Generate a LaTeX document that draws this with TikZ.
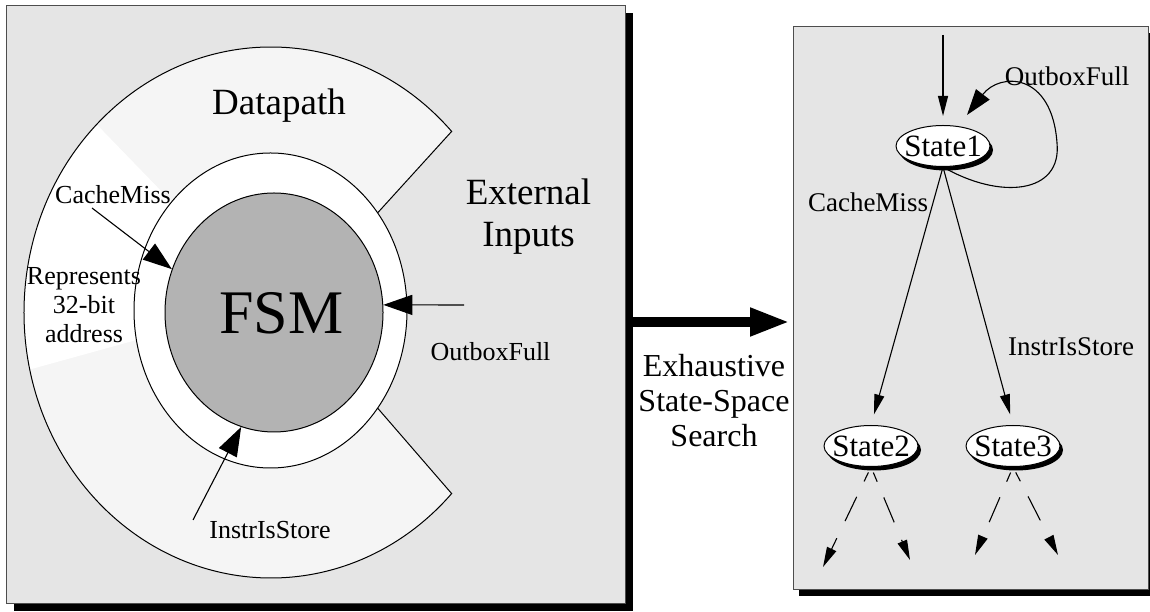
\documentclass[tikz,border=0pt]{standalone}
\usepackage{fontspec}
\setmainfont{Liberation Serif}
\usetikzlibrary{arrows.meta,shapes.geometric,shadows,calc}
\definecolor{panelgray}{HTML}{E5E5E5}
\definecolor{ringgray}{HTML}{F5F5F5}
\definecolor{fsmgray}{HTML}{B3B3B3}
\definecolor{framegray}{HTML}{4D4D4D}
\begin{document}
\begin{tikzpicture}[x=1pt,y=1pt,
  panel/.style={rectangle, draw=framegray, line width=1pt, fill=panelgray,
    anchor=south west, inner sep=0pt},
  txt/.style={inner sep=0pt, align=center},
  lbl/.style={inner sep=0pt, font=\fontsize{26pt}{29pt}\selectfont},
  rlbl/.style={inner sep=0pt, font=\fontsize{27pt}{30pt}\selectfont},
  state/.style={ellipse, draw, line width=1pt, fill=white,
    minimum width=94pt, minimum height=41pt, inner sep=0pt,
    drop shadow={shadow xshift=3pt, shadow yshift=-4pt, fill=black, opacity=1},
    font=\fontsize{31pt}{31pt}\selectfont},
  inarrow/.style={line width=1.1pt, -{Triangle[length=29pt,width=20pt]}},
  edge/.style={line width=1.1pt, -{Triangle[length=20pt,width=10pt]}},
  branch/.style={edge, dash pattern=on 10pt off 17pt on 27pt off 19pt on 60pt},
]
\useasboundingbox (0,0) rectangle (1150,612);

% the two panels with their solid drop shadows
\node[panel, minimum width=619pt, minimum height=598pt,
  drop shadow={shadow xshift=7pt, shadow yshift=-8pt, fill=black, opacity=1}] (dp) at (6,8) {};
\node[panel, minimum width=355pt, minimum height=563pt,
  drop shadow={shadow xshift=5pt, shadow yshift=-7pt, fill=black, opacity=1}] (ss) at (793,22) {};

% datapath: an open ring around the controller
\coordinate (oc) at (271,299.5);
\coordinate (mc) at (270.5,301.5);
\fill[ringgray] ($(oc)+(43:247pt and 265.5pt)$)
  arc[start angle=43, end angle=317, x radius=247pt, y radius=265.5pt]
  -- ($(mc)+(-38.3:136.5pt and 157.5pt)$)
  arc[start angle=-38.3, end angle=-321.7, x radius=136.5pt, y radius=157.5pt] -- cycle;
% the address part of the datapath
\fill[white] ($(oc)+(134.9:247pt and 265.5pt)$)
  arc[start angle=134.9, end angle=192.4, x radius=247pt, y radius=265.5pt]
  -- ($(mc)+(190.8:136.5pt and 157.5pt)$)
  arc[start angle=190.8, end angle=136.4, x radius=136.5pt, y radius=157.5pt] -- cycle;
\draw[line width=1pt] ($(mc)+(38.3:136.5pt and 157.5pt)$)
  -- ($(oc)+(43:247pt and 265.5pt)$)
  arc[start angle=43, end angle=317, x radius=247pt, y radius=265.5pt]
  -- ($(mc)+(-38.3:136.5pt and 157.5pt)$);

\node[ellipse, draw, line width=1pt, fill=white, minimum width=273pt,
  minimum height=315pt] (ring) at (mc) {};
\node[ellipse, draw, line width=1pt, fill=fsmgray, minimum width=218pt,
  minimum height=239pt] (fsm) at (274,299.5) {};

% labels of the left panel
\node[txt, font=\fontsize{37pt}{43pt}\selectfont] (dpl) at (279,506.5) {Datapath};
\node[txt, font=\fontsize{37pt}{42pt}\selectfont] (ext) at (528.5,395.5) {External\\Inputs};
\node[txt, font=\fontsize{62pt}{62pt}\selectfont] (fsml) at (281.5,298.5) {FSM};
\node[txt, font=\fontsize{26pt}{29pt}\selectfont] (rep) at (84,307) {Represents\\32-bit\\address};
\node[lbl] (cm) at (113,417.5) {CacheMiss};
\node[lbl] (ob) at (490.5,260) {OutboxFull};
\node[lbl] (st) at (270,82) {InstrIsStore};

% inputs into the FSM
\coordinate (cm0) at (92,404);
\coordinate (ob0) at (464,307);
\coordinate (st0) at (193,92);
\draw[inarrow] (cm0) -- (fsm.157);
\draw[inarrow] (ob0) -- (fsm.4);
\draw[inarrow] (st0) -- (fsm.254);

% search arrow between the panels
\coordinate (ay) at (0,290);
\draw[line width=10pt, -{Triangle[length=40pt,width=26pt]}, shorten >=3pt]
  (dp.east |- ay) -- (ss.west |- ay);
\node[txt, font=\fontsize{32pt}{35pt}\selectfont] (ess) at (714,211)
  {Exhaustive\\State-Space\\Search};

% state graph
\node[state] (s1) at (943,466) {\makebox[0pt]{State1}};
\node[state] (s2) at (871,166) {\makebox[0pt]{State2}};
\node[state] (s3) at (1013,166) {\makebox[0pt]{State3}};

\coordinate (in0) at (943,577);
\draw[edge, shorten >=9pt] (in0) -- (s1.north);

\coordinate (lp) at (967,497);
\draw[line width=1.1pt, -{Triangle[length=26pt,width=17pt]}] (s1.south)
  .. controls (1000,412) and (1062,418) .. (1057,469)
  .. controls (1052,540) and (1000,540) .. (lp);

\draw[edge, shorten >=11pt] (s1.south) -- (s2.north);
\draw[edge, shorten >=11pt] (s1.south) -- (s3.north);

\node[rlbl] (ob2) at (1067,536) {OutboxFull};
\node[rlbl] (cm2) at (868,410) {CacheMiss};
\node[rlbl] (st2) at (1071,265) {InstrIsStore};

% further successors, not yet explored
\coordinate (s2l) at (823,45);
\coordinate (s2r) at (910,52);
\coordinate (s3l) at (975,57);
\coordinate (s3r) at (1058,57);
\draw[branch, shorten <=6pt] (s2.south) -- (s2l);
\draw[branch, shorten <=6pt] (s2.south) -- (s2r);
\draw[branch, shorten <=6pt] (s3.south) -- (s3l);
\draw[branch, shorten <=6pt] (s3.south) -- (s3r);
\end{tikzpicture}
\end{document}
